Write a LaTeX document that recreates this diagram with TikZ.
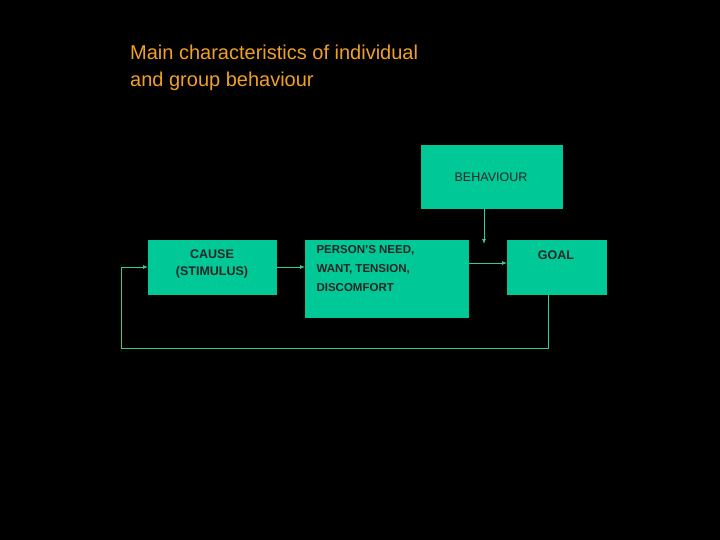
\documentclass[tikz,border=0pt]{standalone}
\usepackage{fontspec}
\setmainfont{Liberation Sans}
\definecolor{teal1}{HTML}{00C896}
\definecolor{ttl}{HTML}{F0A028}
\definecolor{ln}{HTML}{33CC99}
\begin{document}
\begin{tikzpicture}[x=1pt,y=-1pt,
  box/.style={fill=teal1,draw=none,inner sep=0},
  lab/.style={font=\fontsize{12.5}{17}\selectfont\bfseries,text=black!85},
  conn/.style={draw=ln,line width=0.8pt},
  arr/.style={conn,-{Latex[length=5pt,width=4pt]}}]
\usetikzlibrary{arrows.meta}
\fill[black] (0,0) rectangle (720,540);
\useasboundingbox (0,0) rectangle (720,540);
\node[anchor=north west,align=left,text=ttl,font=\fontsize{20}{27}\selectfont,inner sep=0] (title) at (130,45) {Main characteristics of individual\\and group behaviour};
\node[box,minimum width=142,minimum height=64,anchor=north west] (beh) at (421,145) {};
\node[lab,font=\fontsize{12.5}{17}\selectfont] at (491,177) {BEHAVIOUR};
\node[box,minimum width=129,minimum height=55,anchor=north west] (cause) at (148,240) {};
\node[lab,align=center] at (212,264) {CAUSE\\(STIMULUS)};
\node[box,minimum width=164,minimum height=78,anchor=north west] (need) at (305,240) {};
\node[lab,align=left,anchor=north west,font=\fontsize{11.5}{19}\selectfont\bfseries] at (313,242) {PERSON’S NEED,\\WANT, TENSION,\\DISCOMFORT};
\node[box,minimum width=100,minimum height=55,anchor=north west] (goal) at (507,240) {};
\node[lab] at (556,255) {GOAL};
\coordinate (c1) at (548,348);
\coordinate (c2) at (121,348);
\coordinate (c3) at (121,267);
\draw[arr] (beh.south -| 484,0) -- (484,244);
\draw[arr] (cause.east |- 0,267) -- (need.west |- 0,267);
\draw[arr] (need.east |- 0,263) -- (goal.west |- 0,263);
\draw[arr] (goal.south -| c1) -- (c1) -- (c2) -- (c3) -- (cause.west |- c3);
\end{tikzpicture}
\end{document}
